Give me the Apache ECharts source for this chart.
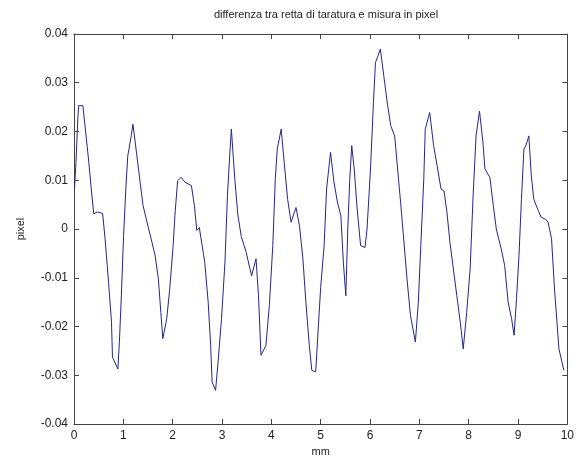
<!DOCTYPE html>
<html>
<head>
<meta charset="utf-8">
<script src="https://cdn.jsdelivr.net/npm/echarts@6/dist/echarts.min.js"></script>
<style>html,body{margin:0;padding:0;background:#fff}#c{width:577px;height:466px}</style>
</head>
<body>
<div id="c"></div>
<script>
var titleText = 'differenza tra retta di taratura e misura in pixel';
var xName = 'mm';
var yName = 'pixel';
var xTicks = [0,1,2,3,4,5,6,7,8,9,10];
var yTicks = [-0.04,-0.03,-0.02,-0.01,0,0.01,0.02,0.03,0.04];

var mm = [0.01,0.04,0.08,0.095,0.18,0.23,0.30,0.35,0.40,0.47,0.58,0.63,0.70,0.76,0.78,0.89,0.92,0.96,1.005,1.05,1.09,1.16,1.195,1.275,1.34,1.40,1.48,1.58,1.645,1.71,1.76,1.80,1.88,1.94,2.01,2.045,2.10,2.17,2.25,2.38,2.44,2.49,2.54,2.58,2.65,2.72,2.77,2.80,2.87,2.92,2.99,3.06,3.11,3.16,3.19,3.26,3.32,3.39,3.49,3.60,3.69,3.74,3.79,3.89,3.96,4.03,4.08,4.12,4.20,4.26,4.33,4.40,4.50,4.57,4.64,4.70,4.77,4.82,4.90,4.95,5.00,5.07,5.12,5.20,5.27,5.34,5.41,5.46,5.51,5.55,5.59,5.63,5.68,5.74,5.81,5.90,5.94,6.01,6.07,6.11,6.21,6.28,6.35,6.42,6.50,6.56,6.62,6.70,6.75,6.82,6.92,6.98,7.03,7.09,7.12,7.21,7.29,7.36,7.44,7.50,7.56,7.62,7.69,7.76,7.83,7.89,7.96,8.03,8.09,8.15,8.22,8.29,8.33,8.43,8.50,8.56,8.66,8.73,8.80,8.87,8.92,8.97,9.02,9.07,9.12,9.16,9.22,9.27,9.32,9.41,9.47,9.56,9.61,9.68,9.74,9.79,9.83,9.93];
var px = [0.0083,0.0137,0.0232,0.0253,0.0253,0.0205,0.0137,0.0082,0.0031,0.0035,0.0032,-0.0020,-0.0109,-0.0191,-0.0263,-0.0287,-0.0232,-0.0137,-0.0014,0.0082,0.0150,0.0191,0.0215,0.0150,0.0096,0.0048,0.0014,-0.0027,-0.0055,-0.0102,-0.0171,-0.0225,-0.0184,-0.0123,-0.0034,0.0027,0.0099,0.0106,0.0096,0.0089,0.0048,-0.0003,0.0003,0.0000,-0.0068,-0.0150,-0.0239,-0.0314,-0.0331,-0.0273,-0.0184,-0.0068,0.0068,0.0157,0.0205,0.0102,0.0030,-0.0015,-0.0048,-0.0096,-0.0061,-0.0137,-0.0259,-0.0239,-0.0157,-0.0034,0.0102,0.0164,0.0205,0.0137,0.0061,0.0014,0.0044,0.0007,-0.0061,-0.0150,-0.0239,-0.0290,-0.0293,-0.0205,-0.0120,-0.0034,0.0082,0.0157,0.0096,0.0055,0.0027,-0.0068,-0.0137,0.0000,0.0102,0.0171,0.0123,0.0041,-0.0034,-0.0038,0.0000,0.0123,0.0259,0.0341,0.0369,0.0314,0.0259,0.0212,0.0191,0.0123,0.0055,-0.0041,-0.0102,-0.0177,-0.0232,-0.0150,-0.0034,0.0102,0.0205,0.0239,0.0171,0.0130,0.0082,0.0078,0.0034,-0.0027,-0.0082,-0.0137,-0.0191,-0.0246,-0.0171,-0.0082,0.0068,0.0191,0.0242,0.0177,0.0123,0.0106,0.0048,0.0000,-0.0041,-0.0075,-0.0150,-0.0184,-0.0218,-0.0143,-0.0055,0.0061,0.0164,0.0171,0.0191,0.0109,0.0061,0.0038,0.0024,0.0020,0.0014,-0.0020,-0.0123,-0.0191,-0.0246,-0.0290];

var data = mm.map(function(v,i){return [v, px[i]];});
var axisCol = '#444';
var txt = '#222';
var font = 'Liberation Sans, Arial, sans-serif';

var chart = echarts.init(document.getElementById('c'), null, {renderer:'canvas'});
chart.setOption({
  animation:false,
  backgroundColor:'#fff',
  title:{text:titleText, left:321, top:4, textAlign:'center',
    textStyle:{fontSize:11, fontWeight:'normal', color:txt, fontFamily:font}},
  grid:{left:74, right:9, top:34, bottom:42, show:false},
  xAxis:[{
    type:'value', min:0, max:10, interval:1,
    name:xName, nameLocation:'middle', nameGap:22,
    nameTextStyle:{fontSize:11, color:txt, fontFamily:font},
    axisLine:{show:true, onZero:false, lineStyle:{color:axisCol, width:1}},
    axisTick:{show:true, inside:true, length:5, lineStyle:{color:axisCol}},
    axisLabel:{fontSize:12, color:txt, fontFamily:font, margin:6,
      formatter:function(v){return xTicks.indexOf(v)>=0 ? String(v) : '';}},
    splitLine:{show:false}
  },{
    type:'value', min:0, max:10, interval:1, position:'top',
    axisLine:{show:true, onZero:false, lineStyle:{color:axisCol, width:1}},
    axisTick:{show:true, inside:true, length:5, lineStyle:{color:axisCol}},
    axisLabel:{show:false}, splitLine:{show:false}
  }],
  yAxis:[{
    type:'value', min:-0.04, max:0.04, interval:0.01,
    name:yName, nameLocation:'middle', nameGap:48, nameRotate:90,
    nameTextStyle:{fontSize:11, color:txt, fontFamily:font},
    axisLine:{show:true, onZero:false, lineStyle:{color:axisCol, width:1}},
    axisTick:{show:true, inside:true, length:5, lineStyle:{color:axisCol}},
    axisLabel:{fontSize:12, color:txt, fontFamily:font, margin:6,
      formatter:function(v){
        var r = Math.round(v*100)/100;
        for (var i=0;i<yTicks.length;i++){ if (Math.abs(yTicks[i]-r)<1e-9) return r===0 ? '0' : r.toFixed(2); }
        return '';
      }},
    splitLine:{show:false}
  },{
    type:'value', min:-0.04, max:0.04, interval:0.01, position:'right',
    axisLine:{show:true, onZero:false, lineStyle:{color:axisCol, width:1}},
    axisTick:{show:true, inside:true, length:5, lineStyle:{color:axisCol}},
    axisLabel:{show:false}, splitLine:{show:false}
  }],
  series:[{
    type:'line', data:data, xAxisIndex:0, yAxisIndex:0,
    showSymbol:false, symbol:'none', smooth:false,
    lineStyle:{color:'#25258f', width:1}
  }]
});
</script>
</body>
</html>
